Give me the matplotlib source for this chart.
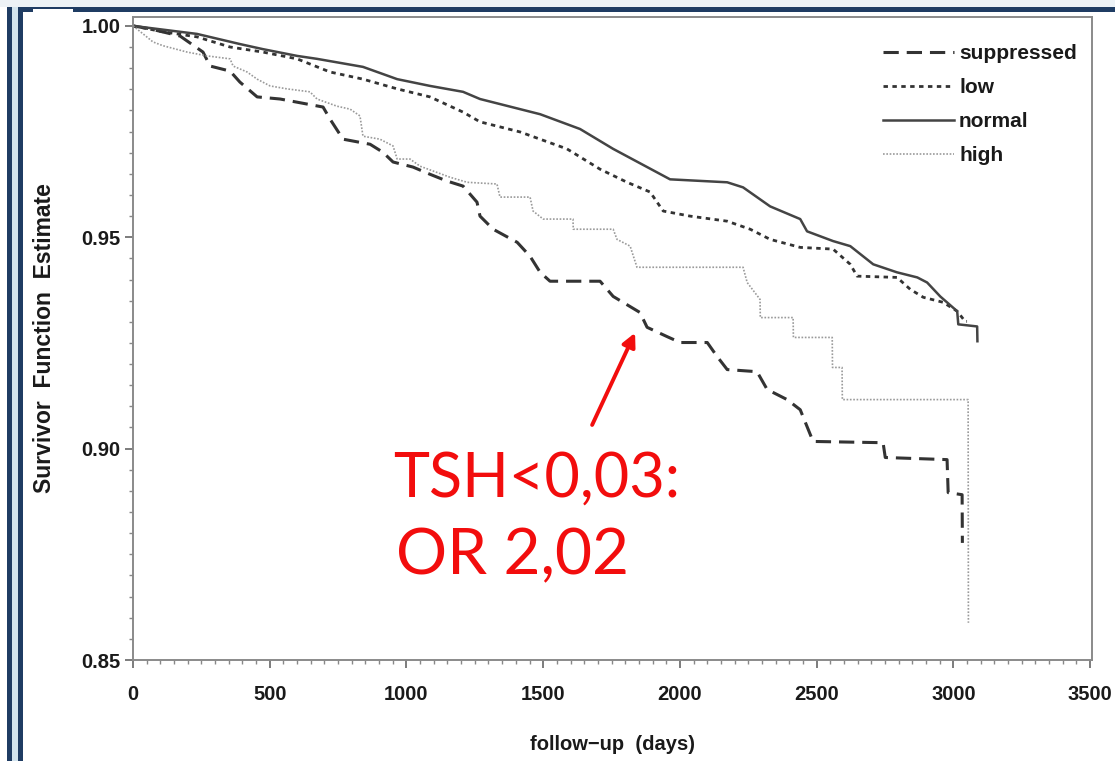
import matplotlib
matplotlib.use("Agg")
import matplotlib.pyplot as plt
from matplotlib.patches import Rectangle
from matplotlib.ticker import MultipleLocator

# ---------------- data ----------------
sup_t = [0, 62, 172, 256, 282, 355, 391, 454, 538, 695, 720, 768, 867, 914, 951, 1024,
         1086, 1148, 1207, 1258, 1269, 1317, 1405, 1452, 1489, 1525, 1708, 1756, 1818,
         1854, 1880, 1953, 2001, 2100, 2136, 2173, 2282, 2319, 2392, 2440, 2487, 2743,
         2751, 2977, 2981, 3032, 3033]
sup_s = [1.000, 0.9993, 0.9976, 0.9938, 0.9905, 0.9893, 0.9867, 0.9832, 0.9827, 0.9808,
         0.9780, 0.9732, 0.9720, 0.9701, 0.9678, 0.9666, 0.9649, 0.9633, 0.9621, 0.9583,
         0.9550, 0.9519, 0.9488, 0.9455, 0.9417, 0.9396, 0.9396, 0.9360, 0.9336, 0.9322,
         0.9287, 0.9265, 0.9251, 0.9251, 0.9218, 0.9187, 0.9182, 0.9140, 0.9116, 0.9092,
         0.9017, 0.9014, 0.8979, 0.8974, 0.8896, 0.8891, 0.8777]

low_t = [0, 110, 234, 355, 475, 600, 720, 841, 966, 1086, 1207, 1269, 1416, 1587, 1708,
         1807, 1891, 1939, 2037, 2173, 2257, 2330, 2440, 2560, 2623, 2648, 2794, 2842,
         2890, 2963, 3014, 3043, 3050]
low_s = [1.000, 0.9986, 0.9974, 0.9950, 0.9938, 0.9922, 0.9891, 0.9874, 0.9851, 0.9832,
         0.9796, 0.9773, 0.9749, 0.9709, 0.9661, 0.9630, 0.9607, 0.9562, 0.9550, 0.9538,
         0.9519, 0.9495, 0.9476, 0.9472, 0.9436, 0.9408, 0.9405, 0.9377, 0.9358, 0.9346,
         0.9325, 0.9301, 0.9301]

nor_t = [0, 234, 391, 475, 600, 673, 841, 966, 1086, 1207, 1269, 1489, 1635, 1756, 1964,
         2173, 2231, 2330, 2440, 2465, 2560, 2623, 2707, 2794, 2868, 2904, 2952, 3014,
         3018, 3087, 3088]
nor_s = [1.000, 0.9981, 0.9957, 0.9945, 0.9929, 0.9922, 0.9903, 0.9874, 0.9858, 0.9844,
         0.9827, 0.9791, 0.9756, 0.9709, 0.9637, 0.9630, 0.9618, 0.9573, 0.9543, 0.9514,
         0.9491, 0.9479, 0.9436, 0.9417, 0.9405, 0.9393, 0.9360, 0.9325, 0.9294, 0.9289,
         0.9254]

hi_t = [0, 37, 73, 110, 198, 271, 355, 366, 417, 454, 501, 563, 647, 673, 746, 794, 830,
        841, 903, 951, 966, 1013, 1050, 1159, 1222, 1331, 1342, 1452, 1463, 1500, 1609,
        1610, 1756, 1770, 1818, 1843, 2231, 2246, 2293, 2294, 2414, 2415, 2557, 2558,
        2593, 2594, 3054, 3055]
hi_s = [1.000, 0.9981, 0.9962, 0.9953, 0.9938, 0.9929, 0.9922, 0.9905, 0.9891, 0.9874,
        0.9858, 0.9851, 0.9844, 0.9827, 0.9810, 0.9803, 0.9787, 0.9739, 0.9732, 0.9716,
        0.9685, 0.9685, 0.9668, 0.9642, 0.9630, 0.9626, 0.9595, 0.9595, 0.9562, 0.9543,
        0.9543, 0.9519, 0.9519, 0.9495, 0.9479, 0.9429, 0.9429, 0.9393, 0.9353, 0.9310,
        0.9310, 0.9263, 0.9263, 0.9192, 0.9192, 0.9116, 0.9116, 0.8588]

x_ticks = [0, 500, 1000, 1500, 2000, 2500, 3000, 3500]
y_ticks = [0.85, 0.90, 0.95, 1.00]
y_tick_labels = ["0.85", "0.90", "0.95", "1.00"]
legend_labels = ["suppressed", "low", "normal", "high"]
annot_lines = ["TSH<0,03:", "OR 2,02"]
arrow_target = (1836, 0.9274)
arrow_start = (1679, 0.9056)

# ---------------- figure ----------------
W, H = 1115, 761
fig = plt.figure(figsize=(W / 100, H / 100), dpi=100)
fig.patch.set_facecolor("#edf2f6")

bg = fig.add_axes([0, 0, 1, 1], zorder=0)
bg.set_xlim(0, W)
bg.set_ylim(H, 0)
bg.axis("off")
navy = "#1f3c63"
bg.add_patch(Rectangle((0, 7), 7, H, color="white", lw=0))
bg.add_patch(Rectangle((7, 7), 5, H, color=navy, lw=0))
bg.add_patch(Rectangle((12, 7), 6, H, color="#d3e4ee", lw=0))
bg.add_patch(Rectangle((18, 7), W, H, color=navy, lw=0))
bg.add_patch(Rectangle((23, 12), W, H, color="white", lw=0))
bg.add_patch(Rectangle((33, 9), 40, 6, color="white", lw=0))

fam = ["Liberation Sans", "DejaVu Sans"]
tc = "#1a1a1a"

ax = fig.add_axes([133 / W, 1 - 660 / H, (1092 - 133) / W, (660 - 17) / H], zorder=1)
ax.set_facecolor("none")
ax.set_xlim(0, 3507)
ax.set_ylim(0.85, 1.0021)

ax.plot(sup_t, sup_s, color="#333333", lw=2.2,
        linestyle=(0, (5, 2.6)), label=legend_labels[0])
ax.plot(low_t, low_s, color="#333333", lw=2.0,
        linestyle=(0, (1.6, 1.6)), label=legend_labels[1])
ax.plot(nor_t, nor_s, color="#444444", lw=1.8,
        linestyle="-", label=legend_labels[2])
ax.plot(hi_t, hi_s, color="#9a9a9a", lw=1.2,
        linestyle=(0, (1, 1)), label=legend_labels[3])

for s in ax.spines.values():
    s.set_color("#8a8a8a")
    s.set_linewidth(1.4)

ax.set_xticks(x_ticks)
ax.set_xticklabels([str(v) for v in x_ticks], fontsize=14.5, fontweight="bold",
                   family=fam, color=tc)
ax.set_yticks(y_ticks)
ax.set_yticklabels(y_tick_labels, fontsize=14.5, fontweight="bold", family=fam, color=tc)
ax.xaxis.set_minor_locator(MultipleLocator(50))
ax.yaxis.set_minor_locator(MultipleLocator(0.005))
ax.tick_params(which="major", direction="out", length=6, width=1.2, color="#666666")
ax.tick_params(which="minor", direction="out", length=3, width=1.0, color="#888888")
ax.tick_params(axis="x", which="major", pad=12)
ax.tick_params(axis="y", which="major", pad=3)

ax.set_xlabel("follow\u2212up  (days)", fontsize=14.5, fontweight="bold", family=fam,
              color=tc, labelpad=22)
ax.set_ylabel("Survivor  Function  Estimate", fontsize=16.5, fontweight="bold",
              family=fam, color=tc, labelpad=18)

leg = ax.legend(loc="upper left", bbox_to_anchor=((883 - 133) / 959, (660 - 44) / 643),
                frameon=False, handlelength=3.4, handletextpad=0.25,
                labelspacing=0.72, borderpad=0, borderaxespad=0,
                prop={"family": fam, "weight": "bold", "size": 15})
for t in leg.get_texts():
    t.set_color(tc)

red = "#f20d0d"
ax.text(951, 0.8886, annot_lines[0], color=red, fontsize=44, family=["Lato", "DejaVu Sans"],
        va="baseline", ha="left")
ax.text(963, 0.8702, annot_lines[1], color=red, fontsize=46, family=["Lato", "DejaVu Sans"],
        va="baseline", ha="left")
ax.annotate("", xy=arrow_target, xytext=arrow_start,
            arrowprops=dict(arrowstyle="-|>,head_length=0.8,head_width=0.4", color=red,
                            lw=2.8, shrinkA=0, shrinkB=0))

fig.savefig("out.png", dpi=100, facecolor=fig.get_facecolor())
